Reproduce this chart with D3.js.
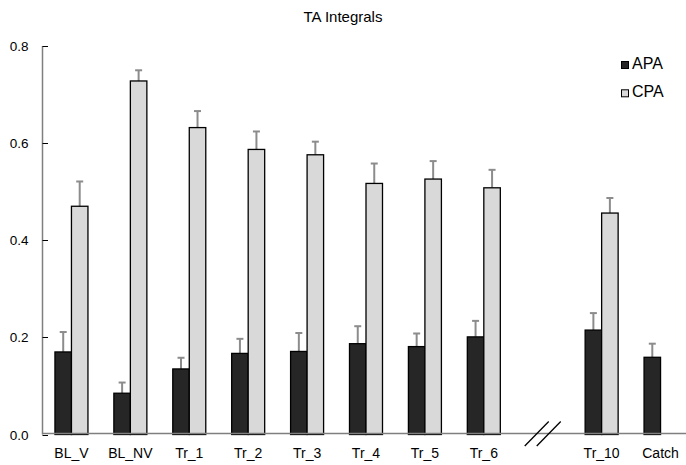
<!DOCTYPE html>
<html><head><meta charset="utf-8">
<script src="https://cdn.jsdelivr.net/npm/d3@7"></script>
<style>body{margin:0;background:#fff;} svg{display:block;font-family:"Liberation Sans",Arial,sans-serif;}</style>
</head><body>
<svg id="c" width="686" height="465"></svg>
<script>
const categories = ["BL_V","BL_NV","Tr_1","Tr_2","Tr_3","Tr_4","Tr_5","Tr_6","","Tr_10","Catch"];
const apaValues = [0.170,0.085,0.135,0.167,0.171,0.187,0.181,0.201,null,0.215,0.159];
const apaErrors = [0.041,0.022,0.023,0.030,0.038,0.036,0.027,0.033,null,0.035,0.028];
const cpaValues = [0.470,0.728,0.632,0.587,0.576,0.517,0.526,0.508,null,0.456,null];
const cpaErrors = [0.051,0.022,0.034,0.037,0.027,0.041,0.037,0.037,null,0.031,null];
const yTicks = [0.0,0.2,0.4,0.6,0.8];
const seriesNames = ["APA","CPA"];
const colors = {APA:"#262626", CPA:"#d9d9d9"};

const svg = d3.select("#c");
const x = d3.scaleBand().domain(categories.map((c,i)=>i)).range([42,690]).paddingInner(0).paddingOuter(0);
const y = d3.scaleLinear().domain([0,0.8]).range([434.5,46]);
const bw = 16.5;

// title
svg.append("text").attr("x",343).attr("y",22).attr("text-anchor","middle")
  .attr("font-size",15).attr("fill","#000").text("TA Integrals");

// y axis
svg.append("line").attr("x1",42.5).attr("x2",42.5).attr("y1",y(0.8)).attr("y2",y(0)).attr("stroke","#7f7f7f").attr("stroke-width",1.5);
yTicks.forEach(t=>{
  svg.append("line").attr("x1",42.5).attr("x2",48).attr("y1",Math.round(y(t))+0.5).attr("y2",Math.round(y(t))+0.5).attr("stroke","#000").attr("stroke-width",1);
  svg.append("text").attr("x",28.5).attr("y",y(t)+5).attr("text-anchor","end").attr("font-size",13.5).attr("fill","#000").text(t.toFixed(1));
});

// bars
const groups = [{name:"APA",vals:apaValues,errs:apaErrors,off:0},{name:"CPA",vals:cpaValues,errs:cpaErrors,off:1}];
groups.forEach(g=>{
  categories.forEach((c,i)=>{
    const v=g.vals[i]; if(v==null) return;
    const cx = x(i)+x.bandwidth()/2;
    const x0 = cx - bw + g.off*bw;
    const ex = x0+bw/2;
    svg.append("line").attr("x1",ex).attr("x2",ex).attr("y1",y(v)).attr("y2",y(v+g.errs[i])).attr("stroke","#8c8c8c").attr("stroke-width",2);
    svg.append("line").attr("x1",ex-3.5).attr("x2",ex+3.5).attr("y1",y(v+g.errs[i])).attr("y2",y(v+g.errs[i])).attr("stroke","#8c8c8c").attr("stroke-width",2);
    svg.append("rect").attr("x",x0).attr("y",y(v)).attr("width",bw).attr("height",y(0)-y(v))
      .attr("fill",colors[g.name]).attr("stroke","#000").attr("stroke-width",1.3);
  });
});

// x axis
svg.append("line").attr("x1",42).attr("x2",686).attr("y1",433.5).attr("y2",433.5).attr("stroke","#7f7f7f").attr("stroke-width",1.5);
categories.forEach((c,i)=>{
  if(!c) return;
  svg.append("text").attr("x",x(i)+x.bandwidth()/2).attr("y",458).attr("text-anchor","middle").attr("font-size",14).attr("fill","#000").text(c);
});

// break marks
const bx = x(8)+x.bandwidth()/2;
[-6,6].forEach(d=>{
  svg.append("line").attr("x1",bx+d-12).attr("y1",446).attr("x2",bx+d+12).attr("y2",421.5).attr("stroke","#000").attr("stroke-width",1.3);
});

// legend
seriesNames.forEach((s,i)=>{
  const base = 69 + i*28.3;
  svg.append("rect").attr("x",621.5).attr("y",base-7.5).attr("width",7).attr("height",7).attr("fill",colors[s]).attr("stroke","#000").attr("stroke-width",1);
  svg.append("text").attr("x",632).attr("y",base).attr("font-size",16).attr("fill","#000").text(s);
});
</script>
</body></html>
